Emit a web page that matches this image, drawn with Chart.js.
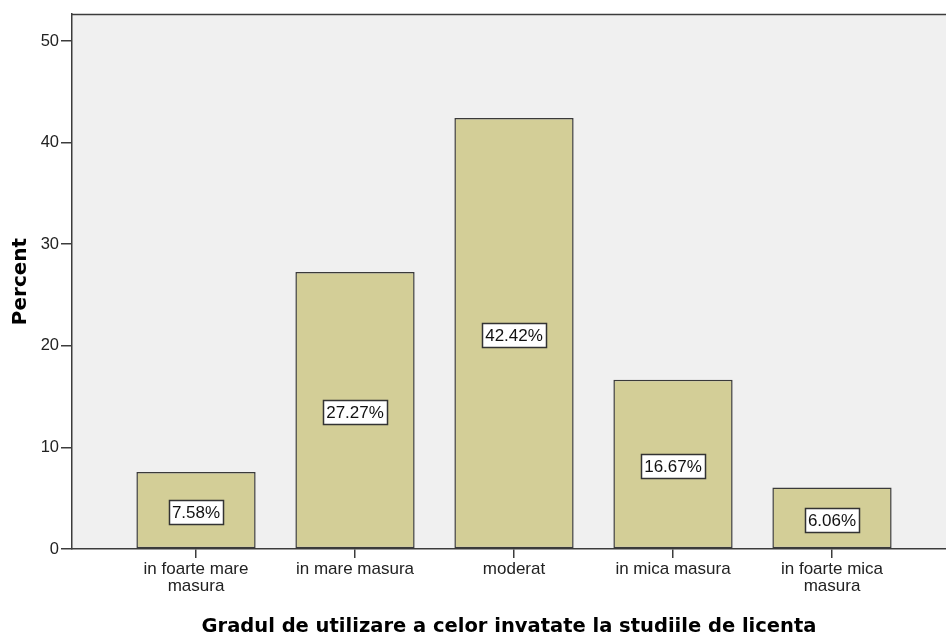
<!DOCTYPE html>
<html>
<head>
<meta charset="utf-8">
<script src="https://cdn.jsdelivr.net/npm/chart.js@4.4.1/dist/chart.umd.min.js"></script>
<style>
html,body{margin:0;padding:0;background:#fff;}
#wrap{width:946px;height:637px;position:relative;}
</style>
</head>
<body>
<div id="wrap"><canvas id="c" width="946" height="637"></canvas></div>
<script>
const categories = [
  ["in foarte mare", "masura"],
  ["in mare masura"],
  ["moderat"],
  ["in mica masura"],
  ["in foarte mica", "masura"]
];
const percentValues = [7.58, 27.27, 42.42, 16.67, 6.06];
const valueLabels = ["7.58%", "27.27%", "42.42%", "16.67%", "6.06%"];
const yTicks = [0, 10, 20, 30, 40, 50];
const xTitle = "Gradul de utilizare a celor invatate la studiile de licenta";
const yTitle = "Percent";

const plotBg = {
  id: 'plotBg',
  beforeDraw(chart) {
    const {ctx, chartArea: a} = chart;
    ctx.save();
    ctx.fillStyle = '#f0f0f0';
    ctx.fillRect(a.left, a.top, a.right - a.left, a.bottom - a.top);
    ctx.strokeStyle = '#3c3c3c';
    ctx.lineWidth = 1.5;
    ctx.beginPath();
    ctx.moveTo(a.left, a.top + 0.5);
    ctx.lineTo(a.right, a.top + 0.5);
    ctx.stroke();
    ctx.restore();
  }
};

const boxLabels = {
  id: 'boxLabels',
  afterDatasetsDraw(chart) {
    const {ctx} = chart;
    const meta = chart.getDatasetMeta(0);
    ctx.save();
    ctx.font = '17px "Liberation Sans", Arial, sans-serif';
    ctx.textAlign = 'center';
    ctx.textBaseline = 'middle';
    meta.data.forEach((bar, i) => {
      const cx = Math.round(bar.x);
      const cy = Math.round((bar.y + bar.base) / 2) + 2;
      const txt = valueLabels[i];
      const w = Math.round(ctx.measureText(txt).width) + 6;
      const h = 24;
      const x0 = Math.round(cx - w / 2) + 0.5;
      const y0 = Math.round(cy - h / 2) + 0.5;
      ctx.fillStyle = '#ffffff';
      ctx.fillRect(x0, y0, w, h);
      ctx.strokeStyle = '#333333';
      ctx.lineWidth = 1.5;
      ctx.strokeRect(x0, y0, w, h);
      ctx.fillStyle = '#111111';
      ctx.fillText(txt, cx, cy + 1);
    });
    ctx.restore();
  }
};

const positions = categories.map((_, i) => i);

new Chart(document.getElementById('c'), {
  type: 'bar',
  data: {
    datasets: [{
      data: positions.map((p, i) => ({x: p, y: percentValues[i]})),
      backgroundColor: '#d3ce97',
      borderColor: '#3a3a3a',
      borderWidth: 1.5,
      borderSkipped: false,
      barPercentage: 0.75,
      categoryPercentage: 1.0
    }]
  },
  plugins: [plotBg, boxLabels],
  options: {
    responsive: false,
    animation: false,
    events: [],
    layout: {padding: {top: 14, right: 0, left: 0, bottom: 0}},
    plugins: {legend: {display: false}, tooltip: {enabled: false}},
    scales: {
      x: {
        type: 'linear',
        offset: false,
        min: -0.78,
        max: 4.717,
        afterBuildTicks(scale) { scale.ticks = positions.map(v => ({value: v})); },
        afterFit(scale) { scale.height = 88; },
        border: {display: true, color: '#3c3c3c', width: 1.5},
        grid: {display: true, offset: false, drawOnChartArea: false, drawTicks: true, tickLength: 9, color: '#3c3c3c', lineWidth: 1.5},
        ticks: {
          autoSkip: false,
          maxRotation: 0,
          padding: 3,
          color: '#222',
          font: {family: '"Liberation Sans", Arial, sans-serif', size: 17, lineHeight: 1.0},
          callback: (v) => categories[v]
        },
        title: {
          display: true,
          text: xTitle,
          color: '#000',
          font: {family: '"DejaVu Sans", Verdana, sans-serif', size: 19.5, weight: 'bold'},
          padding: {top: 10, bottom: -2}
        }
      },
      y: {
        min: 0,
        max: 52.66,
        afterBuildTicks(scale) { scale.ticks = yTicks.map(v => ({value: v})); },
        afterFit(scale) { scale.width = 72; },
        border: {display: true, color: '#3c3c3c', width: 1.5},
        grid: {display: true, drawOnChartArea: false, drawTicks: true, tickLength: 11, color: '#3c3c3c', lineWidth: 1.5},
        ticks: {
          padding: 2,
          color: '#222',
          font: {family: '"Liberation Sans", Arial, sans-serif', size: 16.5}
        },
        title: {
          display: true,
          text: yTitle,
          color: '#000',
          font: {family: '"DejaVu Sans", Verdana, sans-serif', size: 20, weight: 'bold'},
          padding: {top: 9, bottom: 0}
        }
      }
    }
  }
});
</script>
</body>
</html>
